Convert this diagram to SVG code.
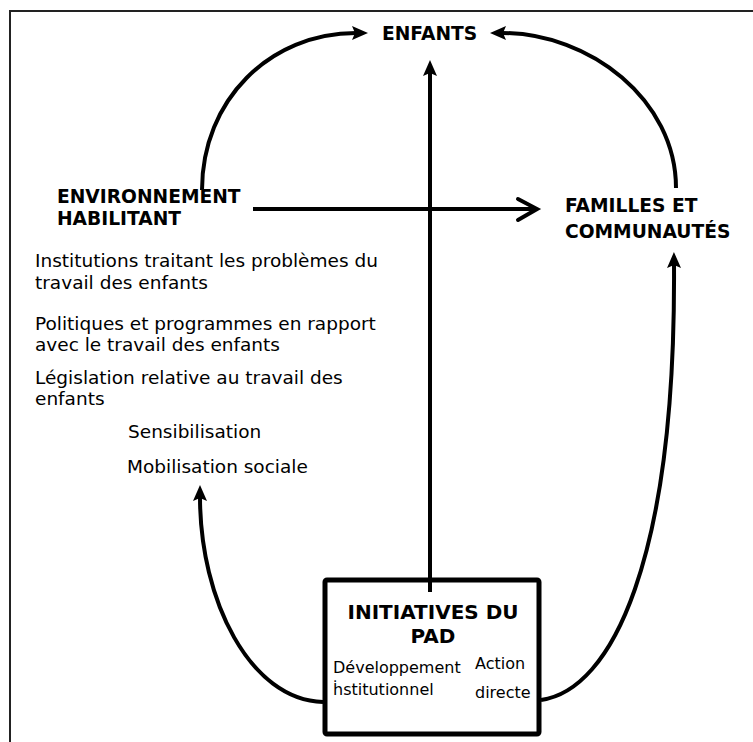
<svg xmlns="http://www.w3.org/2000/svg" width="753" height="742" viewBox="0 0 753 742">
<style>
.b{font-family:"DejaVu Sans",Verdana,sans-serif;font-weight:bold;font-size:18.67px;fill:#000}
.bx{font-family:"DejaVu Sans",Verdana,sans-serif;font-weight:bold;font-size:20px;fill:#000}
.l{font-family:"DejaVu Sans",Verdana,sans-serif;font-size:18.5px;fill:#000}
.r{font-family:"DejaVu Sans",Verdana,sans-serif;font-size:16px;fill:#000}
.c{fill:none;stroke:#000;stroke-width:4}
</style>
<defs>
<marker id="ah" viewBox="0 0 16 14" refX="4" refY="7" markerWidth="16" markerHeight="14" markerUnits="userSpaceOnUse" orient="auto">
<path d="M0,0 L16,7 L0,14 L3,7 z" fill="#000"/>
</marker>
</defs>
<rect width="753" height="742" fill="#fff"/>
<path d="M10,742 V11 H753" fill="none" stroke="#222" stroke-width="2"/>
<g id="connectors">
<path class="c" d="M202,190 C202,100 270,33 356,33" marker-end="url(#ah)"/>
<path class="c" d="M676,188 C676,100 590,33 502,33" marker-end="url(#ah)"/>
<path class="c" d="M430,592 V72" stroke-width="3.5" marker-end="url(#ah)"/>
<path class="c" d="M253,209 H536" stroke-width="5"/>
<path class="c" d="M518,199 L537,209 L518,220" stroke-width="5" stroke-linecap="round" stroke-linejoin="miter"/>
<path class="c" d="M541,700 C612,690 676,560 674,264" marker-end="url(#ah)"/>
<path class="c" d="M323,702 C250,700 200,600 200,497" marker-end="url(#ah)"/>
</g>
<g id="enfants">
<text class="b" x="382" y="40">ENFANTS</text>
</g>
<g id="environnement">
<text class="b" x="57" y="203">ENVIRONNEMENT</text>
<text class="b" x="57" y="225">HABILITANT</text>
<text class="l" x="35" y="267">Institutions traitant les problèmes du</text>
<text class="l" x="35" y="289">travail des enfants</text>
<text class="l" x="35" y="330">Politiques et programmes en rapport</text>
<text class="l" x="35" y="351">avec le travail des enfants</text>
<text class="l" x="35" y="384">Législation relative au travail des</text>
<text class="l" x="35" y="405">enfants</text>
<text class="l" x="128" y="438">Sensibilisation</text>
<text class="l" x="127" y="473">Mobilisation sociale</text>
</g>
<g id="familles">
<text class="b" x="565" y="212">FAMILLES ET</text>
<text class="b" x="565" y="238">COMMUNAUTÉS</text>
</g>
<g id="initiatives">
<rect x="325" y="580" width="214" height="154" rx="2" fill="none" stroke="#000" stroke-width="5"/>
<text class="bx" x="433" y="619" text-anchor="middle">INITIATIVES DU</text>
<text class="bx" x="433" y="643" text-anchor="middle">PAD</text>
<text class="r" x="333" y="673">Développement</text>
<text class="r" x="333" y="695">ḣstitutionnel</text>
<text class="r" x="475" y="669">Action</text>
<text class="r" x="475" y="698">directe</text>
</g>
</svg>
